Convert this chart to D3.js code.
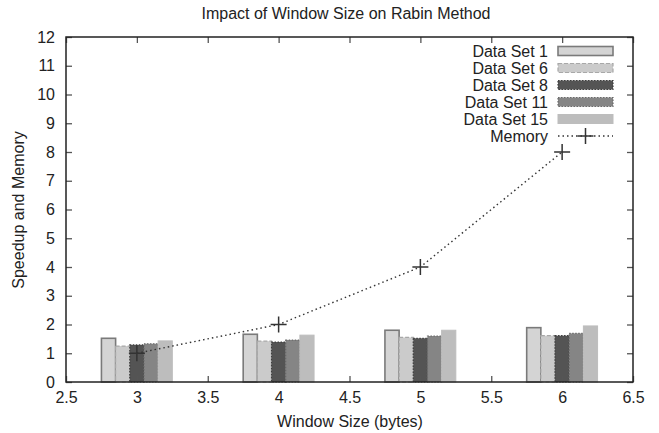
<!DOCTYPE html>
<html>
<head>
<meta charset="utf-8">
<script src="https://cdn.jsdelivr.net/npm/d3@7"></script>
<style>
  html, body { margin: 0; padding: 0; background: #fff; }
  svg text { font-family: "Liberation Sans", Arial, Helvetica, sans-serif; fill: #222; }
</style>
</head>
<body>
<svg id="chart" width="659" height="433"></svg>
<script>
// Window sizes (bytes) at which each group of bars is drawn
const windowSizes = [3, 4, 5, 6];

// Speedup per data set, one value per window size
const seriesNames = ["Data Set 1", "Data Set 6", "Data Set 8", "Data Set 11", "Data Set 15"];
const dataSet1  = [1.52, 1.66, 1.80, 1.89];
const dataSet6  = [1.25, 1.42, 1.55, 1.61];
const dataSet8  = [1.29, 1.39, 1.52, 1.61];
const dataSet11 = [1.33, 1.46, 1.60, 1.69];
const dataSet15 = [1.43, 1.63, 1.80, 1.95];

// Relative memory use per window size
const memory = [1, 2, 4, 8];

// Axis ticks
const xTicks = [2.5, 3, 3.5, 4, 4.5, 5, 5.5, 6, 6.5];
const yTicks = [0, 1, 2, 3, 4, 5, 6, 7, 8, 9, 10, 11, 12];

const series = [dataSet1, dataSet6, dataSet8, dataSet11, dataSet15];

// Bar appearance, one entry per data set
const barStyles = [
  { fill: "#d4d4d4", stroke: "#7a7a7a", width: 1.6, dash: null },
  { fill: "#cbcbcb", stroke: "#a8a8a8", width: 1.2, dash: "4,2" },
  { fill: "#545454", stroke: "#3e3e3e", width: 1.2, dash: "1.5,1.5" },
  { fill: "#858585", stroke: "#6a6a6a", width: 1.2, dash: "1.5,1.5" },
  { fill: "#bdbdbd", stroke: "#bdbdbd", width: 1, dash: null }
];

const FONT = 16;
const svg = d3.select("#chart");
const plot = { left: 66, right: 633, top: 37, bottom: 382 };

const x = d3.scaleLinear().domain([2.5, 6.5]).range([plot.left, plot.right]);
const y = d3.scaleLinear().domain([0, 12]).range([plot.bottom, plot.top]);

const barWidth = 0.1;       // in window-size units
const groupStart = -0.25;   // offset of the first bar from the group centre

// Bars
series.forEach((vals, si) => {
  const st = barStyles[si];
  svg.append("g").selectAll("rect")
    .data(vals.map((v, i) => ({ x: windowSizes[i], v })))
    .join("rect")
    .attr("x", d => x(d.x + groupStart + si * barWidth))
    .attr("width", d => x(d.x + groupStart + (si + 1) * barWidth) - x(d.x + groupStart + si * barWidth))
    .attr("y", d => y(d.v))
    .attr("height", d => y(0) - y(d.v))
    .attr("fill", st.fill)
    .attr("stroke", st.stroke)
    .attr("stroke-width", st.width)
    .attr("stroke-dasharray", st.dash);
});

// Memory line
const line = d3.line().x((d, i) => x(windowSizes[i])).y(d => y(d));
svg.append("path")
  .datum(memory)
  .attr("d", line)
  .attr("fill", "none")
  .attr("stroke", "#333")
  .attr("stroke-width", 1.4)
  .attr("stroke-dasharray", "1.5,3");

const plusSize = 8;
function plus(g, cx, cy) {
  g.append("path")
    .attr("d", `M${cx - plusSize},${cy}H${cx + plusSize}M${cx},${cy - plusSize}V${cy + plusSize}`)
    .attr("stroke", "#333")
    .attr("stroke-width", 1.5)
    .attr("fill", "none");
}
const pts = svg.append("g");
memory.forEach((v, i) => plus(pts, x(windowSizes[i]), y(v)));

// Frame and axes (ticks drawn inward on all four sides)
const tickLen = 6;
const axisBottom = d3.axisBottom(x).tickValues(xTicks).tickSizeInner(-tickLen).tickSizeOuter(0).tickPadding(10).tickFormat(d3.format("~g"));
const axisTop = d3.axisTop(x).tickValues(xTicks).tickSizeInner(-tickLen).tickSizeOuter(0).tickFormat("");
const axisLeft = d3.axisLeft(y).tickValues(yTicks).tickSizeInner(-tickLen).tickSizeOuter(0).tickPadding(11).tickFormat(d3.format("d"));
const axisRight = d3.axisRight(y).tickValues(yTicks).tickSizeInner(-tickLen).tickSizeOuter(0).tickFormat("");

function styleAxis(g) {
  g.select(".domain").remove();
  g.selectAll(".tick line").attr("stroke", "#555").attr("stroke-width", 1.3);
  g.selectAll(".tick text").attr("font-size", FONT).attr("fill", "#222");
}
svg.append("g").attr("transform", `translate(0,${plot.bottom})`).call(axisBottom).call(styleAxis);
svg.append("g").attr("transform", `translate(0,${plot.top})`).call(axisTop).call(styleAxis);
svg.append("g").attr("transform", `translate(${plot.left},0)`).call(axisLeft).call(styleAxis);
svg.append("g").attr("transform", `translate(${plot.right},0)`).call(axisRight).call(styleAxis);

svg.append("rect")
  .attr("x", plot.left).attr("y", plot.top)
  .attr("width", plot.right - plot.left).attr("height", plot.bottom - plot.top)
  .attr("fill", "none").attr("stroke", "#222").attr("stroke-width", 1.5);

// Titles
svg.append("text")
  .attr("x", 346).attr("y", 19)
  .attr("text-anchor", "middle").attr("font-size", FONT)
  .text("Impact of Window Size on Rabin Method");
svg.append("text")
  .attr("x", 350).attr("y", 427)
  .attr("text-anchor", "middle").attr("font-size", FONT)
  .text("Window Size (bytes)");
svg.append("text")
  .attr("transform", "translate(24,210) rotate(-90)")
  .attr("text-anchor", "middle").attr("font-size", FONT)
  .text("Speedup and Memory");

// Legend
const legend = svg.append("g");
const legX = 548, swX = 558, swW = 55, swH = 9, rowH = 17, legY = 51;
const legendEntries = seriesNames.map((name, i) => ({ name, style: barStyles[i] }));
legendEntries.forEach((e, i) => {
  const cy = legY + i * rowH;
  legend.append("text")
    .attr("x", legX).attr("y", cy).attr("dy", "0.35em")
    .attr("text-anchor", "end").attr("font-size", FONT)
    .text(e.name);
  legend.append("rect")
    .attr("x", swX).attr("y", cy - swH / 2)
    .attr("width", swW).attr("height", swH)
    .attr("fill", e.style.fill).attr("stroke", e.style.stroke)
    .attr("stroke-width", e.style.width).attr("stroke-dasharray", e.style.dash);
});
const memY = legY + seriesNames.length * rowH;
legend.append("text")
  .attr("x", legX).attr("y", memY).attr("dy", "0.35em")
  .attr("text-anchor", "end").attr("font-size", FONT)
  .text("Memory");
legend.append("path")
  .attr("d", `M${swX},${memY}H${swX + swW}`)
  .attr("stroke", "#333").attr("stroke-width", 1.4).attr("stroke-dasharray", "1.5,3");
plus(legend, swX + swW / 2, memY);
</script>
</body>
</html>
